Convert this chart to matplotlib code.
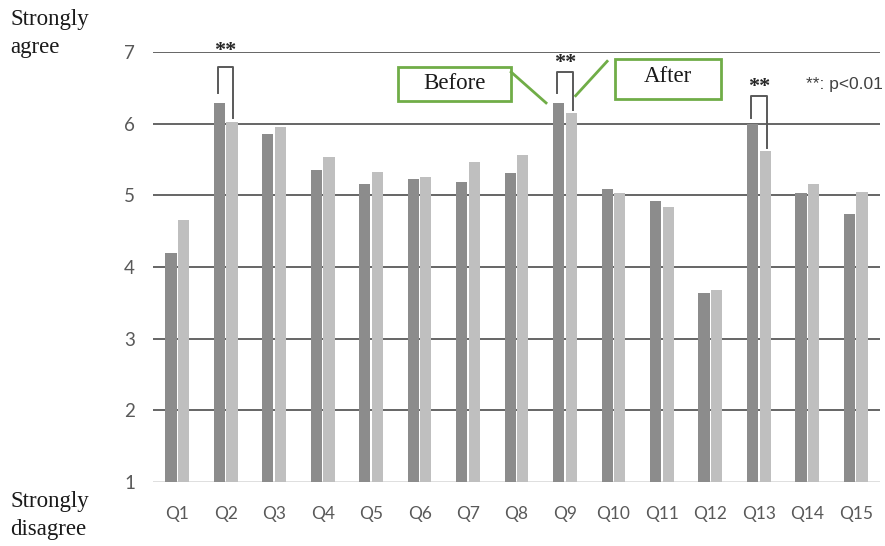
import matplotlib
matplotlib.use("Agg")
import matplotlib.pyplot as plt
from matplotlib.patches import Rectangle
import numpy as np

# Survey items and mean scores (7-point Likert scale)
questions = ["Q1", "Q2", "Q3", "Q4", "Q5", "Q6", "Q7", "Q8",
             "Q9", "Q10", "Q11", "Q12", "Q13", "Q14", "Q15"]
before = [4.20, 6.29, 5.86, 5.36, 5.16, 5.23, 5.19, 5.31,
          6.29, 5.09, 4.92, 3.64, 6.00, 5.03, 4.74]
after = [4.66, 6.03, 5.96, 5.54, 5.33, 5.26, 5.47, 5.56,
         6.15, 5.03, 4.84, 3.68, 5.62, 5.16, 5.05]
y_ticks = [1, 2, 3, 4, 5, 6, 7]
# Items with a significant before/after difference (p < 0.01)
significant = ["Q2", "Q9", "Q13"]

DARK = "#8c8c8c"
LIGHT = "#bfbfbf"
GRID = "#595959"
GREEN = "#70ad47"
SANS = ["Lato", "DejaVu Sans"]
SERIF = ["Liberation Serif", "DejaVu Serif"]

fig = plt.figure(figsize=(8.85, 5.46), dpi=100)
ax = fig.add_axes([153 / 885, 64 / 546, 727 / 885, 430 / 546])

x = np.arange(len(questions))
w = 0.23
off = 0.13
ax.bar(x - off, np.array(before) - 1, width=w, bottom=1, color=DARK, zorder=3)
ax.bar(x + off, np.array(after) - 1, width=w, bottom=1, color=LIGHT, zorder=3)

ax.set_xlim(-0.5, len(questions) - 0.5)
ax.set_ylim(1, 7)
ax.set_yticks(y_ticks)
ax.set_xticks(x)
ax.set_xticklabels(questions)
for t in y_ticks[1:]:
    ax.axhline(t, color=GRID, lw=1.3, zorder=1)
ax.axhline(1, color="#d9d9d9", lw=1.2, zorder=1)

for s in ax.spines.values():
    s.set_visible(False)
ax.tick_params(axis="both", length=0, colors="#595959")
ax.tick_params(axis="x", pad=17, labelsize=12.5)
ax.tick_params(axis="y", pad=13, labelsize=13.5)
for lab in ax.get_xticklabels() + ax.get_yticklabels():
    lab.set_family(SANS)

# Significance brackets
bracket = {"Q2": (6.79, 6.43, 6.08, 7.04),
           "Q9": (6.72, 6.43, 6.19, 6.87),
           "Q13": (6.39, 6.08, 5.66, 6.54)}
for q in significant:
    i = questions.index(q)
    top, lb, rb, star_y = bracket[q]
    xl, xr = i - off - 0.03, i + off + 0.03
    ax.plot([xl, xl, xr, xr], [lb, top, top, rb], color=GRID, lw=1.4,
            zorder=4, clip_on=False)
    ax.text((xl + xr) / 2, star_y - 0.03, "**", ha="center", va="center",
            fontsize=16, fontweight="bold", family=SERIF, color="#262626",
            clip_on=False)

ax.text(1.004, 6.54, "**: p<0.01", transform=ax.get_yaxis_transform(),
        ha="right", va="center", fontsize=12.5, family=["Liberation Sans"],
        color="#404040", clip_on=False)

# Callout boxes for the two series
def callout(x0, x1, y0, y1, label, lx, ly, ty):
    ax.add_patch(Rectangle((x0, y0), x1 - x0, y1 - y0, fill=False,
                           edgecolor=GREEN, lw=2, zorder=5, clip_on=False))
    ax.text((x0 + x1) / 2, ty, label, ha="center", va="center",
            fontsize=16.5, family=SERIF, color="#1a1a1a", zorder=6)
    ax.plot(lx, ly, color=GREEN, lw=2, zorder=5, clip_on=False)

callout(4.555, 6.886, 6.32, 6.79, "Before",
        [6.89, 7.61], [6.72, 6.29], 6.56)
callout(9.03, 11.22, 6.34, 6.90, "After",
        [8.87, 8.22], [6.87, 6.39], 6.66)

# Scale anchors
for label, ypx in [("Strongly", 20), ("agree", 47),
                   ("Strongly", 502), ("disagree", 529)]:
    fig.text(10 / 885, 1 - ypx / 546, label, fontsize=16.5, family=SERIF,
             va="center", ha="left", color="#1a1a1a")

fig.savefig("out.png", dpi=100)
